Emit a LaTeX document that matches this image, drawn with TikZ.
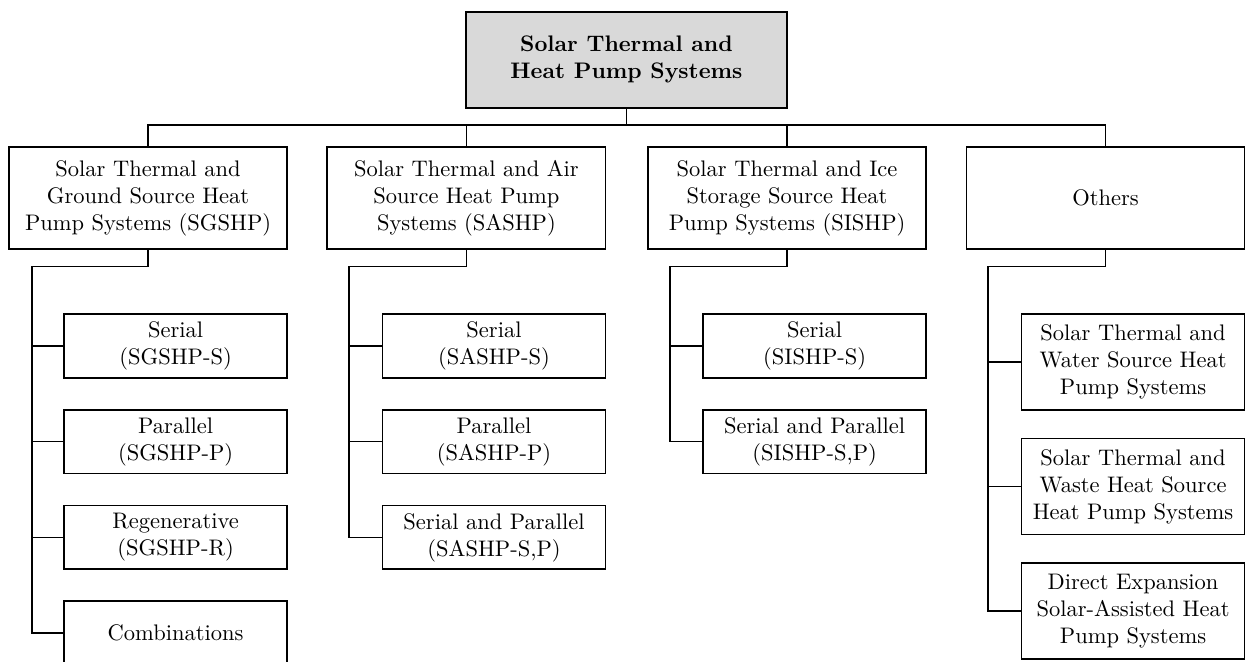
\documentclass[tikz,border=0pt]{standalone}
\usepackage{tikz}
\usetikzlibrary{positioning}
\definecolor{rootgray}{RGB}{217,217,217}
\tikzset{
  rootbox/.style={rectangle, draw=black, fill=rootgray, line width=0.8pt,
                  minimum width=142.7pt, minimum height=42.7pt, align=center, font=\bfseries},
  catbox/.style={rectangle, draw=black, fill=white, line width=0.8pt,
                 minimum width=#1, minimum height=45.3pt, align=center, inner sep=2pt},
  catbox/.default=123.6pt,
  subbox/.style={rectangle, draw=black, fill=white, line width=0.8pt,
                 minimum width=99.1pt, minimum height=#1, align=center, inner sep=2pt},
  subbox/.default=28.4pt,
  link/.style={line width=0.8pt, color=black},
}

\begin{document}
\begin{tikzpicture}[x=1pt, y=1pt]
  \useasboundingbox (0,0) rectangle (554.2,294.2);

  % top level
  \node[rootbox] (root) at (278.4,267.6) {Solar Thermal and\\Heat Pump Systems};

  % categories
  \node[catbox] (sgshp) at (65.8,206.1) {Solar Thermal and\\Ground Source Heat\\Pump Systems (SGSHP)};
  \node[catbox] (sashp) at (207.3,206.1) {Solar Thermal and Air\\Source Heat Pump\\Systems (SASHP)};
  \node[catbox] (sishp) at (349.8,206.1) {Solar Thermal and Ice\\Storage Source Heat\\Pump Systems (SISHP)};
  \node[catbox] (others) at (491.3,206.1) {Others};

  % SGSHP
  \node[subbox, below left=27.9pt and 0pt of sgshp.south east] (sgs) {Serial\\(SGSHP-S)};
  \node[subbox, below=13.4pt of sgs] (sgp) {Parallel\\(SGSHP-P)};
  \node[subbox, below=13.4pt of sgp] (sgr) {Regenerative\\(SGSHP-R)};
  \node[subbox, below=13.4pt of sgr] (sgc) {Combinations};

  % SASHP
  \node[subbox, below left=27.9pt and 0pt of sashp.south east] (sas) {Serial\\(SASHP-S)};
  \node[subbox, below=13.4pt of sas] (sap) {Parallel\\(SASHP-P)};
  \node[subbox, below=13.4pt of sap] (sasp) {Serial and Parallel\\(SASHP-S,P)};

  % SISHP
  \node[subbox, below left=27.9pt and 0pt of sishp.south east] (sis) {Serial\\(SISHP-S)};
  \node[subbox, below=13.4pt of sis] (sisp) {Serial and Parallel\\(SISHP-S,P)};

  % others
  \node[subbox=42.7pt, below left=27.9pt and 0pt of others.south east] (wshp) {Solar Thermal and\\Water Source Heat\\Pump Systems};
  \node[subbox=42.7pt, below=11.9pt of wshp] (whshp) {Solar Thermal and\\Waste Heat Source\\Heat Pump Systems};
  \node[subbox=42.7pt, below=11.9pt of whshp] (dxshp) {Direct Expansion\\Solar-Assisted Heat\\Pump Systems};

  % connectors
  \draw[link] (root.south) -- ++(0,-7.1pt) coordinate (bus) -| (sgshp.north);
  \draw[link] (bus) -| (sashp.north);
  \draw[link] (bus) -| (sishp.north);
  \draw[link] (bus) -| (others.north);

  \draw[link] (sgshp.south) -- ++(0,-7.3pt) -| ([xshift=-14pt]sgc.west) -- (sgc.west);
  \foreach \n in {sgs,sgp,sgr} \draw[link] (\n.west) -- ++(-14pt,0);

  \draw[link] (sashp.south) -- ++(0,-7.3pt) -| ([xshift=-14.5pt]sasp.west) -- (sasp.west);
  \foreach \n in {sas,sap} \draw[link] (\n.west) -- ++(-14.5pt,0);

  \draw[link] (sishp.south) -- ++(0,-7.3pt) -| ([xshift=-14.5pt]sisp.west) -- (sisp.west);
  \draw[link] (sis.west) -- ++(-14.5pt,0);

  \draw[link] (others.south) -- ++(0,-7.3pt) -| ([xshift=-14.5pt]dxshp.west) -- (dxshp.west);
  \foreach \n in {wshp,whshp} \draw[link] (\n.west) -- ++(-14.5pt,0);
\end{tikzpicture}
\end{document}
